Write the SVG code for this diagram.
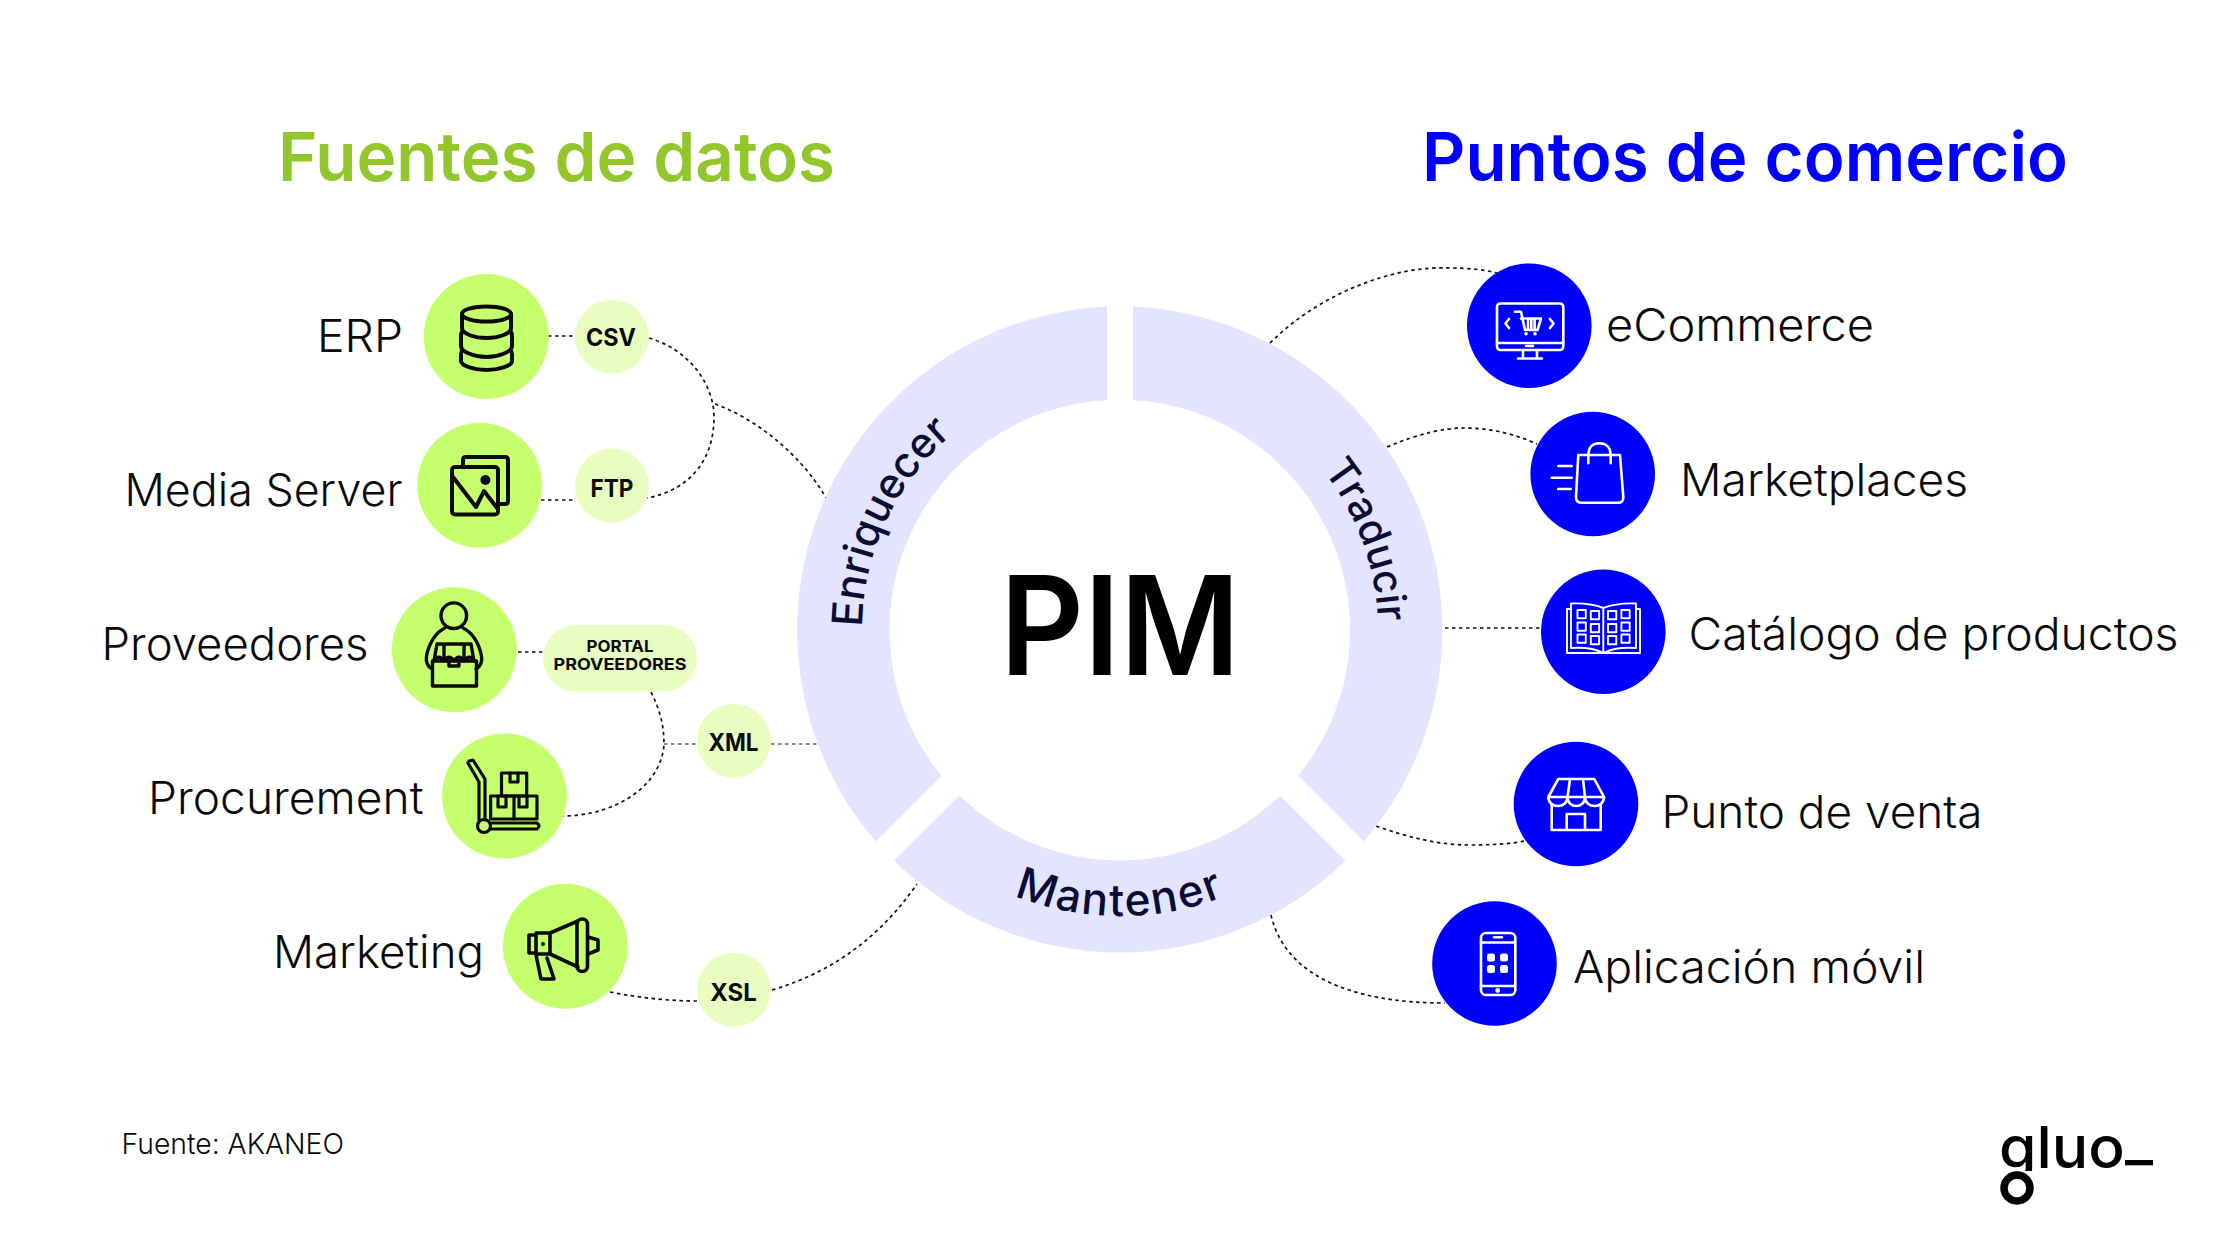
<svg xmlns="http://www.w3.org/2000/svg" width="2240" height="1260" viewBox="0 0 2240 1260">
<defs>
<style>
text{font-family:Inter,"Liberation Sans",sans-serif}
.lab{font-size:44.500px;font-weight:300;fill:#0a0a0a}
.fmt{font-size:24px;font-weight:700;fill:#0a0a0a;text-anchor:middle}
.fmt2{font-size:16.500px;font-weight:700;fill:#0a0a0a;text-anchor:middle}
.title{font-size:68px;font-weight:600}
.arc{font-size:42px;font-weight:500;fill:#0b0b33;text-anchor:middle}
.g{fill:#c6ff6e}.lg{fill:#e8fdc0}.b{fill:#0000ff}
.seg{fill:#e3e4ff}
.con path,.con line{fill:none;stroke:#111;stroke-width:1.700;stroke-dasharray:3.500 3.500}
.ik{fill:none;stroke:#0a0a0a;stroke-width:4;stroke-linejoin:round;stroke-linecap:round}
.iw{fill:none;stroke:#fff;stroke-width:2.600;stroke-linejoin:round;stroke-linecap:round}
.fw{fill:#fff;stroke:none}
</style>
<path id="pE" d="M877.600 718.200A258 258 0 0 1 1031.800 387.600"/>
<path id="pT" d="M1268 418.700A258 258 0 0 1 1369.200 696.800"/>
<path id="pM" d="M956 864.300A286 286 0 0 0 1284 864.300"/>
<clipPath id="logoClip"><rect x="1990" y="1090" width="180" height="81"/></clipPath>
</defs>
<rect width="2240" height="1260" fill="#fff"/>
<text class="title" x="278" y="181" fill="#93c62a" textLength="557" lengthAdjust="spacingAndGlyphs">Fuentes de datos</text>
<text class="title" x="1422" y="181" fill="#0000ff" textLength="646" lengthAdjust="spacingAndGlyphs">Puntos de comercio</text>

<g id="connectors" class="con">
<line x1="548" y1="336" x2="575" y2="336"/>
<line x1="541" y1="500" x2="575" y2="500"/>
<path d="M649 338C690 350 714 385 714 417C714 460 690 490 647 498"/>
<path d="M715 404C760 420 805 460 826 498"/>
<line x1="518" y1="652" x2="543" y2="652"/>
<path d="M651 692C660 710 664 725 664 745C660 790 610 816 563 816"/>
<line x1="664" y1="744" x2="697" y2="744" style="stroke-width:1.200"/>
<line x1="771" y1="744" x2="819" y2="744" style="stroke-width:1.200"/>
<path d="M610 992C640 998 670 1001 697 1001"/>
<path d="M772 990C840 970 885 930 917 884"/>
<path d="M1270 343C1320 293 1395 265 1450 268C1470 268 1485 270 1497 273"/>
<path d="M1387 447C1420 433 1445 428 1465 428C1490 428 1515 434 1537 444"/>
<line x1="1445" y1="628" x2="1540" y2="628"/>
<path d="M1376 826C1410 838 1440 845 1470 845C1490 845 1510 844 1525 841"/>
<path d="M1271 915C1285 975 1350 1003 1445 1003"/>
</g>

<g id="ring">
<path class="seg" d="M875.800 841.600A323.700 323.700 0 0 1 1107 306.600L1107 399.900A230.500 230.500 0 0 0 941.300 775.700Z"/>
<path class="seg" d="M1133 306.600A323.700 323.700 0 0 1 1363.700 841.600L1298.200 775.700A230.500 230.500 0 0 0 1133 399.900Z"/>
<path class="seg" d="M894 860.700A323.700 323.700 0 0 0 1345.500 860.700L1280 795.600A230.500 230.500 0 0 1 959.500 795.600Z"/>
<text class="arc"><textPath href="#pE" startOffset="50%">Enriquecer</textPath></text>
<text class="arc" style="font-size:41px"><textPath href="#pT" startOffset="50%">Traducir</textPath></text>
<text class="arc" style="font-size:44px;letter-spacing:2px"><textPath href="#pM" startOffset="50%">Mantener</textPath></text>
<text x="1120" y="675" font-size="138" font-weight="600" text-anchor="middle" fill="#000" textLength="240" lengthAdjust="spacingAndGlyphs">PIM</text>
</g>

<g id="erp">
<circle class="g" cx="486.300" cy="336.500" r="62.500"/>
<g class="ik">
<ellipse cx="486.500" cy="314" rx="24.500" ry="7.500"/>
<path d="M462 314V328C462 334 475 338 486.500 338S511 334 511 328V314"/>
<path d="M462.500 331Q461 333 461 336V346C461 352 475 357 486.500 357S512 352 512 346V336Q512 333 510.500 331"/>
<path d="M462.500 350Q461 351 461 354V361C461 366 475 370 486.500 370S512 366 512 361V354Q512 351 510.500 350"/>
</g>
<text class="lab" x="317" y="352" textLength="86" lengthAdjust="spacingAndGlyphs">ERP</text>
</g>
<g id="csv"><circle class="lg" cx="612" cy="336.700" r="37"/><text class="fmt" x="611" y="346" textLength="50" lengthAdjust="spacingAndGlyphs">CSV</text></g>

<g id="media-server">
<circle class="g" cx="479.800" cy="485.300" r="62.500"/>
<g class="ik">
<path d="M463 466V460Q463 457 466 457H505Q508 457 508 460V501Q508 504 505 504H499"/>
<rect x="452" y="467" width="46" height="47.500" rx="3"/>
<path d="M453 477L476 507L484 491L497 508"/>
</g>
<circle cx="485.400" cy="480" r="5" fill="#0a0a0a"/>
<text class="lab" x="124.500" y="505.700" textLength="278" lengthAdjust="spacingAndGlyphs">Media Server</text>
</g>
<g id="ftp"><circle class="lg" cx="612" cy="485.500" r="37"/><text class="fmt" x="612" y="496.500" textLength="43" lengthAdjust="spacingAndGlyphs">FTP</text></g>

<g id="proveedores">
<circle class="g" cx="454.400" cy="649.700" r="62.500"/>
<g class="ik" style="stroke-width:3.400">
<circle cx="453.800" cy="615.700" r="12.800"/>
<path d="M445 628C436 632 429 643 426.500 656C425.500 662 427 666 432 669"/>
<path d="M463 628C472 632 479 643 481.500 656C482.500 662 481 666 476 669"/>
<rect x="432.500" y="661" width="44" height="25"/>
<path d="M434 661L437 644H471L474 661M434 661C436 656 441 656 444 661C447 656 451 656 454 661C457 656 461 656 464 661C467 656 472 656 474 661"/>
<path d="M444 645L444 660M464 645L464 660M449 661V666H459V661"/>
</g>
<text class="lab" x="101.500" y="660" textLength="267" lengthAdjust="spacingAndGlyphs">Proveedores</text>
</g>
<g id="portal"><rect class="lg" x="543.200" y="625" width="153.600" height="66.400" rx="33"/>
<text class="fmt2" x="620" y="652" textLength="67" lengthAdjust="spacingAndGlyphs">PORTAL</text>
<text class="fmt2" x="620" y="670" textLength="133" lengthAdjust="spacingAndGlyphs">PROVEEDORES</text></g>
<g id="xml"><circle class="lg" cx="733.900" cy="740.700" r="37"/><text class="fmt" x="733.500" y="751" textLength="50" lengthAdjust="spacingAndGlyphs">XML</text></g>

<g id="procurement">
<circle class="g" cx="504.500" cy="796" r="62.500"/>
<g class="ik" style="stroke-width:3.200">
<path d="M469 761L473 760L485 779V820"/>
<path d="M468 763L479 782V820"/>
<circle cx="484" cy="826" r="6.500"/>
<path d="M491 823H537Q541 826 537 829H491"/>
<rect x="490.600" y="796" width="46.400" height="23"/>
<path d="M514 796V819M498 796V807H506V796M519 796V807H527V796"/>
<rect x="501.500" y="773" width="25.200" height="23"/>
<path d="M510 773V782H518V773"/>
</g>
<text class="lab" x="148" y="814" textLength="275.500" lengthAdjust="spacingAndGlyphs">Procurement</text>
</g>

<g id="marketing">
<circle class="g" cx="565.400" cy="946.300" r="62.500"/>
<g class="ik" style="stroke-width:3.600">
<rect x="529" y="935" width="7" height="18"/>
<path d="M536 933H550L578 921M536 954H550L578 967M550 933V954"/>
<rect x="577" y="919" width="10.500" height="52.500" rx="5.200"/>
<path d="M588 937L598 940V950L588 954"/>
<path d="M536 955L541 979H554L547 958"/>
</g>
<circle cx="543" cy="944" r="2" fill="#0a0a0a"/>
<text class="lab" x="273" y="968" textLength="211" lengthAdjust="spacingAndGlyphs">Marketing</text>
</g>
<g id="xsl"><circle class="lg" cx="733.900" cy="989.700" r="37"/><text class="fmt" x="733.500" y="1000.700" textLength="46.500" lengthAdjust="spacingAndGlyphs">XSL</text></g>

<g id="ecommerce">
<circle class="b" cx="1529.300" cy="325.700" r="62.300"/>
<g class="iw">
<rect x="1497" y="303.500" width="66.300" height="46.500" rx="3.500"/>
<path d="M1497 343H1563M1526 346H1533M1523 350V358M1537 350V358M1518 358.500H1542"/>
<path d="M1515 311.700H1521L1525 330H1537.500L1541 318.500H1521M1528 318.500V329M1531.300 318.500V329M1534.600 318.500V329"/>
<path d="M1509 319L1505.500 323.500L1509 328M1550 319L1553.500 323.500L1550 328"/>
</g>
<circle class="fw" cx="1526" cy="333.800" r="1.800"/><circle class="fw" cx="1535" cy="333.800" r="1.800"/>
<text class="lab" x="1606" y="341" textLength="268" lengthAdjust="spacingAndGlyphs">eCommerce</text>
</g>
<g id="marketplaces">
<circle class="b" cx="1592.700" cy="474" r="62.300"/>
<g class="iw">
<path d="M1578.300 455H1620L1623.300 497Q1623.500 502.700 1618 502.700H1581Q1576 502.700 1576 497Z"/>
<path d="M1588.300 463.300V455C1588.300 447 1593 443.300 1599.300 443.300S1610.700 447 1610.700 455V463.300"/>
<path d="M1558.300 466H1571.700M1551.700 477.700H1571.700M1558.300 489H1570.700"/>
</g>
<text class="lab" x="1680" y="496" textLength="288" lengthAdjust="spacingAndGlyphs">Marketplaces</text>
</g>
<g id="catalogo">
<circle class="b" cx="1603.300" cy="631.700" r="62.300"/>
<g class="iw" style="stroke-width:1.900">
<path d="M1570.500 609H1567V653H1640V609H1636.500"/>
<path d="M1571 603.500V648C1585 647 1596 649 1603.300 653C1611 649 1622 647 1636 648V603.500C1622 603 1611 605 1603.300 608C1596 605 1585 603 1571 603.500ZM1603.300 608V652"/>
<rect x="1577.500" y="610" width="8.300" height="8.300"/><rect x="1590.800" y="611" width="8.300" height="8.300"/>
<rect x="1577.500" y="622.500" width="8.300" height="8.300"/><rect x="1590.800" y="624" width="8.300" height="8.300"/>
<rect x="1577.500" y="634.500" width="8.300" height="8.300"/><rect x="1590.800" y="636" width="8.300" height="8.300"/>
<rect x="1608" y="611" width="8.300" height="8.300"/><rect x="1621.400" y="610" width="8.300" height="8.300"/>
<rect x="1608" y="624" width="8.300" height="8.300"/><rect x="1621.400" y="622.500" width="8.300" height="8.300"/>
<rect x="1608" y="636" width="8.300" height="8.300"/><rect x="1621.400" y="634.500" width="8.300" height="8.300"/>
</g>
<text class="lab" x="1688.500" y="650" textLength="490" lengthAdjust="spacingAndGlyphs">Catálogo de productos</text>
</g>
<g id="punto-venta">
<circle class="b" cx="1576" cy="804" r="62.300"/>
<g class="iw">
<path d="M1558.300 779H1594.300L1604 797H1548.300Z"/>
<path d="M1570 779L1567.500 797M1583 779L1585 797"/>
<path d="M1548.300 797C1548.300 809 1567.500 809 1567.500 797C1567.500 809 1585 809 1585 797C1585 809 1604 809 1604 797"/>
<path d="M1551.700 804V830H1600.700V804M1566.700 830V814H1585V830"/>
</g>
<text class="lab" x="1661.500" y="828" textLength="321" lengthAdjust="spacingAndGlyphs">Punto de venta</text>
</g>
<g id="aplicacion">
<circle class="b" cx="1494.500" cy="963.500" r="62.300"/>
<g class="iw">
<rect x="1481" y="933" width="34.300" height="62" rx="5"/>
<path d="M1481 942.500H1515M1481 986H1515M1494 937.300H1502"/>
</g>
<g class="fw">
<rect x="1487" y="953.500" width="8" height="8" rx="2.500"/><rect x="1500" y="953.500" width="8" height="8" rx="2.500"/>
<rect x="1487" y="965" width="8" height="8" rx="2.500"/><rect x="1500" y="965" width="8" height="8" rx="2.500"/>
<circle cx="1497.700" cy="990.500" r="2.400"/>
</g>
<text class="lab" x="1573" y="983" textLength="352" lengthAdjust="spacingAndGlyphs">Aplicación móvil</text>
</g>

<text x="121.500" y="1154" font-size="29" font-weight="300" fill="#0a0a0a" textLength="222.500" lengthAdjust="spacingAndGlyphs">Fuente: AKANEO</text>
<g id="logo">
<text x="1999" y="1168" font-size="58" font-weight="500" fill="#000" clip-path="url(#logoClip)" textLength="154" lengthAdjust="spacingAndGlyphs">gluo<tspan dy="-8">_</tspan></text>
<circle cx="2017" cy="1188" r="13" fill="none" stroke="#000" stroke-width="7.500"/>
</g>
</svg>
